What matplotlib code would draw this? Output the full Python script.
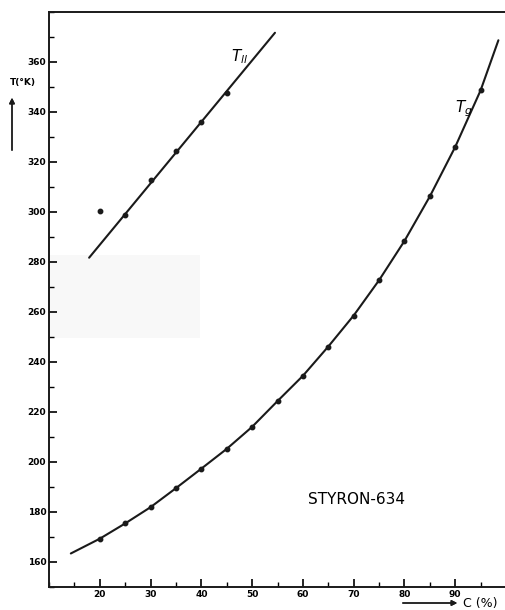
import numpy as np
import matplotlib
matplotlib.use("Agg")
from matplotlib import pyplot as plt
from matplotlib.patches import Rectangle
from matplotlib.ticker import MultipleLocator

# Tg measurements (C in %, T in K)
tg_c = [20, 25, 30, 35, 40, 45, 50, 55, 60, 65, 70, 75, 80, 85, 90, 95]
tg_t = [169.3, 175.4, 181.9, 189.5, 197.3, 205.2, 214.0, 224.3, 234.4, 246.1,
        258.5, 272.6, 288.3, 306.1, 325.9, 348.5]
# drawn Tg curve
tg_curve_c = [14.3, 20, 25, 30, 35, 40, 45, 50, 55, 60, 65, 70, 75, 80, 85, 90, 95, 98.5]
tg_curve_t = [163.4, 169.3, 175.4, 181.9, 189.5, 197.3, 205.2, 214.0, 224.3, 234.4,
              246.1, 258.5, 272.6, 288.3, 306.1, 325.9, 348.5, 368.5]

# Tll measurements
tll_c = [20, 25, 30, 35, 40, 45]
tll_t = [300.4, 298.6, 312.8, 324.2, 336.0, 347.5]
tll_line_c = [17.9, 54.5]
tll_line_t = [281.6, 371.5]

yticks = list(range(160, 361, 20))
xticks = list(range(20, 91, 10))

fig = plt.figure(figsize=(5.05, 6.10), dpi=100)
ax = fig.add_axes([49 / 505, 23 / 610, 1 - 49 / 505 + 0.002, 575.5 / 610])

# faint grey patch from the scan
ax.add_patch(Rectangle((10, 249.5), 29.8, 33, facecolor="#f8f8f8", edgecolor="none", zorder=0))

ax.plot(tg_curve_c, tg_curve_t, color="#1a1a1a", lw=1.5, solid_capstyle="round")
ax.plot(tg_c, tg_t, "o", color="#1a1a1a", ms=3.2)
ax.plot(tll_line_c, tll_line_t, color="#1a1a1a", lw=1.5, solid_capstyle="round")
ax.plot(tll_c, tll_t, "o", color="#1a1a1a", ms=3.2)

ax.set_xlim(10, 100)
ax.set_ylim(150, 380)
ax.set_xticks(xticks)
ax.set_yticks(yticks)
ax.xaxis.set_minor_locator(MultipleLocator(5))
ax.yaxis.set_minor_locator(MultipleLocator(10))
ax.tick_params(which="major", direction="in", length=6, width=1.2, labelsize=6.5, pad=2)
ax.tick_params(which="minor", direction="in", length=3.5, width=1.0)
for lab in ax.get_xticklabels() + ax.get_yticklabels():
    lab.set_fontweight("bold")

for s in ["left", "bottom", "top"]:
    ax.spines[s].set_linewidth(1.4)
    ax.spines[s].set_color("#1a1a1a")
ax.spines["right"].set_visible(False)

ax.text(47.5, 362, r"$T_{ll}$", fontsize=11, ha="center", va="center")
ax.text(91.6, 341, r"$T_g$", fontsize=11, ha="center", va="center")
ax.text(70.5, 185, "STYRON-634", fontsize=11, ha="center", va="center")

# axis labels as in the original
fig.text(10 / 505, 1 - 82 / 610, "T(°K)", fontsize=6.5, fontweight="bold", ha="left", va="center")
fig.add_artist(plt.annotate("", xy=(12 / 505, 1 - 95 / 610), xytext=(12 / 505, 1 - 153 / 610),
                            xycoords="figure fraction",
                            arrowprops=dict(arrowstyle="-|>", color="#1a1a1a", lw=1.0,
                                            mutation_scale=8)))
fig.add_artist(plt.annotate("", xy=(460 / 505, 1 - 603 / 610), xytext=(400 / 505, 1 - 603 / 610),
                            xycoords="figure fraction",
                            arrowprops=dict(arrowstyle="-|>", color="#1a1a1a", lw=1.0,
                                            mutation_scale=8)))
fig.text(463 / 505, 1 - 603 / 610, "C (%)", fontsize=9, ha="left", va="center")

fig.savefig("out.png", dpi=100)
